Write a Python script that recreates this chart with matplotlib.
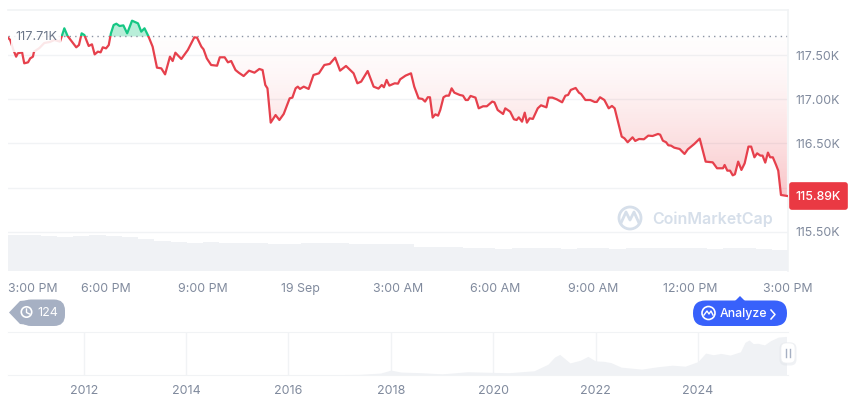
import matplotlib as mpl
mpl.use("Agg")
import matplotlib.pyplot as plt
import numpy as np
from matplotlib.patches import Circle, FancyBboxPatch, Polygon, Rectangle
from matplotlib.path import Path

plt.rcParams['font.family'] = ['Inter', 'DejaVu Sans']

# price, minutes since 3:00 PM on the previous day
minute = [0, 4, 10, 15, 18, 26, 30, 37, 41, 46, 48, 58, 67, 77, 86, 96, 104, 110, 118, 126,
          131, 136, 141, 149, 155, 160, 166, 171, 175, 181, 186, 190, 195, 200, 206, 213, 220, 229, 240, 246,
          252, 259, 267, 275, 283, 290, 299, 304, 309, 320, 332, 344, 349, 357, 361, 367, 375, 386, 391, 400,
          406, 412, 420, 426, 435, 445, 455, 464, 470, 475, 479, 485, 494, 501, 509, 520, 525, 531, 535, 539,
          546, 555, 564, 574, 584, 594, 604, 613, 624, 638, 645, 652, 664, 675, 684, 690, 694, 699, 704, 714,
          720, 724, 734, 744, 750, 758, 765, 770, 775, 779, 784, 789, 794, 798, 804, 809, 814, 819, 824, 834,
          840, 845, 849, 854, 863, 869, 877, 884, 894, 898, 904, 914, 918, 927, 934, 939, 943, 949, 954, 958,
          963, 969, 978, 984, 994, 998, 1005, 1013, 1023, 1029, 1034, 1039, 1048, 1054, 1058, 1066, 1075, 1083, 1087, 1093,
          1101, 1109, 1115, 1120, 1133, 1138, 1144, 1153, 1158, 1165, 1174, 1182, 1190, 1200, 1204, 1209, 1215, 1219, 1224, 1230,
          1240, 1249, 1255, 1267, 1277, 1288, 1301, 1309, 1320, 1323, 1328, 1333, 1338, 1342, 1348, 1354, 1360, 1367, 1372, 1378,
          1383, 1389, 1393, 1398, 1403, 1407, 1412, 1418, 1422, 1427, 1438]
price = [117.696, 117.670, 117.557, 117.481, 117.519, 117.530, 117.406, 117.417, 117.462, 117.481, 117.538, 117.579, 117.636, 117.647, 117.670, 117.651, 117.802, 117.715, 117.651, 117.587,
         117.613, 117.745, 117.726, 117.602, 117.621, 117.507, 117.538, 117.530, 117.587, 117.575, 117.613, 117.745, 117.839, 117.854, 117.828, 117.835, 117.745, 117.888, 117.858, 117.764,
         117.802, 117.715, 117.594, 117.357, 117.349, 117.281, 117.481, 117.432, 117.526, 117.455, 117.557, 117.700, 117.696, 117.594, 117.564, 117.462, 117.387, 117.379, 117.474, 117.474,
         117.417, 117.432, 117.330, 117.300, 117.262, 117.323, 117.300, 117.342, 117.330, 117.161, 117.123, 116.735, 116.821, 116.765, 116.833, 117.010, 117.018, 117.123, 117.142, 117.116,
         117.142, 117.116, 117.274, 117.293, 117.387, 117.399, 117.470, 117.323, 117.376, 117.293, 117.180, 117.199, 117.319, 117.142, 117.120, 117.161, 117.135, 117.218, 117.154, 117.180,
         117.176, 117.225, 117.267, 117.293, 117.142, 117.010, 117.003, 116.973, 117.022, 117.022, 116.792, 116.829, 116.814, 116.878, 117.022, 117.040, 117.040, 117.123, 117.074, 117.048,
         117.040, 116.991, 116.991, 117.037, 117.018, 116.897, 116.920, 116.920, 116.973, 116.965, 116.878, 116.833, 116.897, 116.859, 116.773, 116.765, 116.795, 116.746, 116.848, 116.735,
         116.784, 116.777, 116.897, 116.931, 116.908, 117.018, 117.018, 116.999, 116.965, 117.040, 117.048, 117.105, 117.127, 117.074, 117.059, 116.991, 116.991, 116.969, 116.969, 117.022,
         116.991, 116.897, 116.924, 116.897, 116.577, 116.558, 116.513, 116.569, 116.528, 116.550, 116.547, 116.588, 116.584, 116.607, 116.599, 116.531, 116.513, 116.479, 116.475, 116.452,
         116.437, 116.381, 116.433, 116.494, 116.554, 116.294, 116.286, 116.219, 116.219, 116.256, 116.192, 116.192, 116.139, 116.151, 116.294, 116.200, 116.275, 116.464, 116.464, 116.343,
         116.388, 116.362, 116.362, 116.283, 116.396, 116.343, 116.343, 116.256, 116.192, 115.917, 115.906]
baseline = 117.71
baseline_label = "117.71K"
last_label = "115.89K"

# one bar per half hour, arbitrary units
volume = [36, 36, 35, 34, 35, 36, 35, 34, 32, 30, 29, 28, 29, 28, 28, 28,
          27, 27, 28, 28, 28, 27, 27, 27, 27, 24, 24, 24, 23, 23, 22, 23,
          23, 23, 22, 23, 23, 22, 23, 23, 23, 23, 23, 22, 23, 23, 22, 21]

price_ticks = [115.5, 116.0, 116.5, 117.0, 117.5]
price_labels = ["115.50K", "", "116.50K", "117.00K", "117.50K"]
time_ticks = [0, 180, 360, 540, 720, 900, 1080, 1260, 1440]
time_labels = ["3:00 PM", "6:00 PM", "9:00 PM", "19 Sep", "3:00 AM", "6:00 AM", "9:00 AM", "12:00 PM", "3:00 PM"]

# all-time price for the navigator strip, thousands
hist_year = [2010.5, 2013.0, 2016.5, 2017.4, 2017.8, 2018.0, 2018.2, 2018.6, 2019.0, 2019.5, 2020.0, 2020.3, 2020.8, 2021.07,
             2021.2, 2021.3, 2021.4, 2021.5, 2021.7, 2021.85, 2022.0, 2022.15, 2022.3, 2022.5, 2022.9, 2023.2, 2023.5, 2023.75,
             2024.0, 2024.15, 2024.3, 2024.45, 2024.63, 2024.83, 2024.92, 2025.0, 2025.08, 2025.17, 2025.3, 2025.42, 2025.57, 2025.73]
hist_price = [0, 0.3, 0.6, 2, 6, 15, 9, 7, 3.5, 10, 8, 7, 13, 33,
              55, 63, 50, 37, 45, 57, 43, 42, 38, 24, 18, 25, 30, 27,
              41, 67, 62, 66, 61, 71, 100, 107, 96, 97, 92, 105, 116, 118]
year_ticks = [2012, 2014, 2016, 2018, 2020, 2022, 2024]

TEXT = "#808a9d"
GRID = "#f1f3f5"
RED = "#e6404c"
GREEN = "#16c784"
VOL = "#f0f2f5"
W, H = 860, 401


def px_axes(left, top, right, bottom):
    return fig.add_axes([left / W, 1 - bottom / H, (right - left) / W, (bottom - top) / H])


fig = plt.figure(figsize=(8.6, 4.01), dpi=100, facecolor="white")

ax = px_axes(8, 10, 788, 271)
for s in ["left", "bottom"]:
    ax.spines[s].set_visible(False)
for s in ["top", "right"]:
    ax.spines[s].set_color(GRID)
    ax.spines[s].set_linewidth(1.2)
ax.set_yticks(price_ticks)
ax.set_yticklabels(price_labels, color=TEXT, fontsize=8.9)
ax.yaxis.tick_right()
ax.tick_params(axis="y", length=0, pad=5)
ax.grid(axis="y", color=GRID, linewidth=1)
ax.set_axisbelow(True)
ax.set_xticks(time_ticks)
ax.set_xticklabels(time_labels, color=TEXT, fontsize=8.9, va="baseline")
ax.tick_params(axis="x", length=0, pad=15)
ax.get_xticklabels()[0].set_ha("left")

m = np.array(minute)
p = np.array(price)

# gradient under the baseline, flat green above it
below = ax.fill_between(m, p, baseline, where=p <= baseline, interpolate=True, facecolor="none", linewidth=0)
t = np.linspace(0, 1, 256)[:, None]
grad = np.zeros((256, 1, 4))
grad[..., 0], grad[..., 1], grad[..., 2] = 0.92, 0.22, 0.26
grad[..., 3] = 0.01 + 0.28 * t ** 1.5
im = ax.imshow(grad, extent=[0, 1440, 115.9, baseline], aspect="auto", origin="upper", zorder=1)
im.set_clip_path(Path.make_compound_path(*below.get_paths()), transform=ax.transData)
ax.fill_between(m, p, baseline, where=p >= baseline, interpolate=True, facecolor=GREEN, alpha=0.3, linewidth=0, zorder=1)
ax.set_xlim(0, 1440)
ax.set_ylim(115.057, 118.009)

ax.axhline(baseline, color="#8a93a3", linewidth=1, linestyle=(0, (1, 3)), zorder=2)

line_red, = ax.plot(m, p, color=RED, linewidth=1.6, zorder=3, solid_joinstyle="round")
line_red.set_clip_path(Rectangle((0, 115), 1440, baseline - 115, transform=ax.transData))
line_green, = ax.plot(m, p, color=GREEN, linewidth=1.6, zorder=3, solid_joinstyle="round")
line_green.set_clip_path(Rectangle((0, baseline), 1440, 1, transform=ax.transData))

# volume strip
vol_ax = px_axes(8, 232, 788, 271)
vol_ax.patch.set_alpha(0)
vol_ax.bar(np.arange(len(volume)) * 30 + 15, volume, width=30, color=VOL, linewidth=0)
vol_ax.set_xlim(0, 1440)
vol_ax.set_ylim(0, 39)
vol_ax.axis("off")

# navigator strip
nav = px_axes(8, 331.5, 788, 375)
nav.fill_between(hist_year, hist_price, 0, color=VOL, linewidth=0)
nav.set_xlim(2010.52, 2025.76)
nav.set_ylim(0, 133)
nav.set_xticks(year_ticks)
nav.set_xticklabels([str(y) for y in year_ticks], color=TEXT, fontsize=9)
nav.set_yticks([])
nav.tick_params(axis="x", length=0, pad=7)
nav.grid(axis="x", color=GRID, linewidth=1)
nav.set_axisbelow(True)
for s in ["left", "right"]:
    nav.spines[s].set_visible(False)
for s in ["top", "bottom"]:
    nav.spines[s].set_color(GRID)

# overlay in pixel coordinates for badges and the watermark
ov = fig.add_axes([0, 0, 1, 1], zorder=10)
ov.set_xlim(0, W)
ov.set_ylim(H, 0)
ov.axis("off")
ov.patch.set_alpha(0)

# the baseline label fades the line behind it
ov.add_patch(Rectangle((11, 24), 50, 28, fc="white", ec="none", alpha=0.88))
ov.text(15, 37.5, baseline_label, color="#6b7689", fontsize=9.1, va="center")

ov.add_patch(FancyBboxPatch((790, 183), 57, 26, boxstyle="round,pad=0,rounding_size=2", fc="#ea3943", ec="#ea3943", lw=1.2))
ov.text(818.5, 196.5, last_label, color="white", fontsize=8.9, ha="center", va="center", fontweight="medium")

# watermark
WM = "#d6dfea"
ov.add_patch(Circle((630, 218), 11, fc="none", ec=WM, lw=2))
ov.plot([621, 626, 630, 634, 639], [223, 212, 220, 212, 223], color=WM, lw=2)
ov.text(652, 219, "CoinMarketCap", color=WM, fontsize=11.5, fontweight="semibold", va="center")

# history badge
ov.add_patch(FancyBboxPatch((20, 299.5), 45, 26.5, boxstyle="round,pad=0,rounding_size=11", fc="#a6b0c3", ec="none"))
ov.add_patch(Polygon([[9, 312.5], [20, 301], [30, 300], [30, 325], [20, 324]], fc="#a6b0c3", ec="none"))
ov.add_patch(Circle((26.5, 312), 5.2, fc="none", ec="white", lw=1.2))
ov.plot([26.5, 26.5, 29.5], [309, 312.5, 314], color="white", lw=1)
ov.text(48, 312.5, "124", color="white", fontsize=9, ha="center", va="center")

# analyze badge
ov.add_patch(FancyBboxPatch((693, 300.5), 94, 25.5, boxstyle="round,pad=0,rounding_size=12.5", fc="#3861fb", ec="none"))
ov.add_patch(Polygon([[735, 301], [740, 296], [745, 301]], fc="#3861fb", ec="none"))
ov.add_patch(Circle((708.5, 313), 6.5, fc="none", ec="white", lw=1.2))
ov.plot([704, 707, 709, 711, 713], [315, 311, 314, 311, 315], color="white", lw=1)
ov.text(720, 313.5, "Analyze", color="white", fontsize=8.9, va="center", fontweight="medium")
ov.plot([771, 775, 771], [310, 314.5, 319], color="white", lw=1.1)

# slider handle
ov.add_patch(FancyBboxPatch((779.5, 342.5), 17, 23, boxstyle="round,pad=0,rounding_size=6", fc="#dfe3e9", ec="none", alpha=0.45))
ov.add_patch(FancyBboxPatch((781, 343), 14, 20, boxstyle="round,pad=0,rounding_size=5", fc="white", ec="#eef0f3", lw=0.5))
ov.plot([786, 786], [349, 357], color="#a6b0c3", lw=1)
ov.plot([789.5, 789.5], [349, 357], color="#a6b0c3", lw=1)

fig.savefig("out.png", dpi=100)
